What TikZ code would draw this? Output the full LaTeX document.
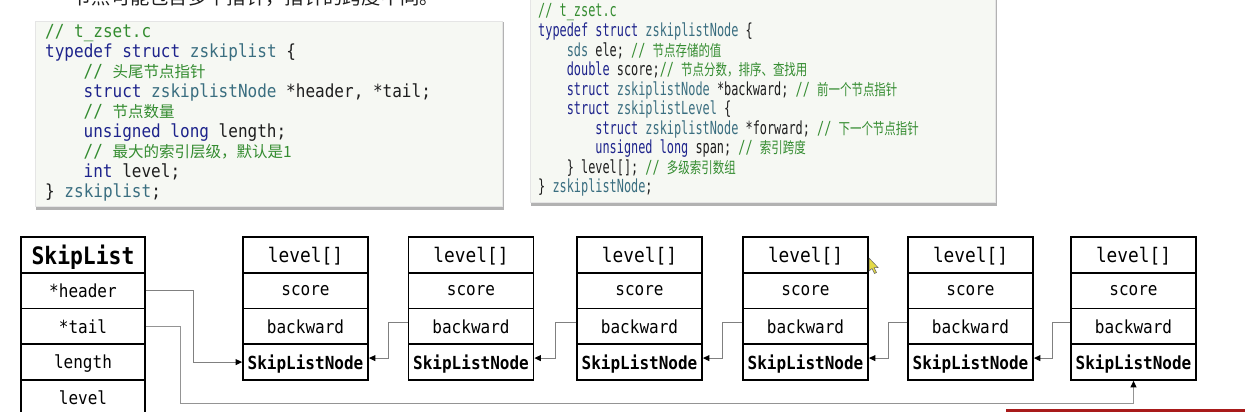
\documentclass[tikz,border=0pt]{standalone}
\usepackage{fontspec}
\usetikzlibrary{arrows.meta,calc}
\newfontfamily\mono[FakeStretch=0.89]{DejaVu Sans Mono}
\newfontfamily\monoN[FakeStretch=0.66]{DejaVu Sans Mono}
\newfontfamily\cjk{Noto Sans CJK SC}
\newfontfamily\cjkN[FakeStretch=0.74]{Noto Sans CJK SC}
\definecolor{ckwc}{RGB}{30,36,140}
\definecolor{ctyc}{RGB}{58,110,128}
\definecolor{ccmc}{RGB}{52,140,48}
\definecolor{codebg}{RGB}{246,248,243}
\definecolor{txt}{RGB}{30,30,30}
\definecolor{cursorc}{RGB}{228,218,70}
\definecolor{redbar}{RGB}{168,26,26}
\newcommand\ckw[1]{\textcolor{ckwc}{#1}}
\newcommand\cty[1]{\textcolor{ctyc}{#1}}
\newcommand\ccm[1]{\textcolor{ccmc}{#1}}
\newcommand\zhL[1]{{\cjk\fontsize{15.5}{19}\selectfont #1}}
\newcommand\zhR[1]{{\cjkN\fontsize{15.5}{19}\selectfont #1}}
\tikzset{
  codeL/.style={anchor=base west, inner sep=0pt, text=txt, font=\mono\fontsize{18}{21}\selectfont\frenchspacing},
  codeR/.style={anchor=base west, inner sep=0pt, text=txt, font=\monoN\fontsize{18}{21}\selectfont\frenchspacing},
  codebox/.style={fill=codebg, draw=black!10, line width=0.6pt},
  shadowbox/.style={fill=black!30, draw=none},
  row/.style={draw=black, line width=1.8pt, minimum width=125pt, minimum height=35.75pt, inner sep=0pt, text depth=0pt, font=\mono\fontsize{18}{21}\selectfont},
  lvrow/.style={row, font=\mono\fontsize{20}{23}\selectfont},
  boldrow/.style={row, font=\mono\bfseries\fontsize{18}{21}\selectfont},
  titlerow/.style={row, minimum width=124pt, font=\mono\bfseries\fontsize{24}{27}\selectfont},
  slrow/.style={row, minimum width=124pt},
  conn/.style={draw=black!50, line width=1pt, -{Triangle[length=6.5pt,width=6pt,color=black]}},
  tailconn/.style={conn, draw=black!42}
}
\begin{document}
\begin{tikzpicture}[x=1pt,y=-1pt]
\clip (0,0) rectangle (1245,412);
\fill[white] (0,0) rectangle (1245,412);

% partially visible title line
\node[anchor=base west, inner sep=0pt, font=\cjk\fontsize{19.3}{22}\selectfont, text=txt] (topline) at (44,5) {•\hspace{9pt}节点可能包含多个指针，指针的跨度不同。};

% left code box
\path[shadowbox] (36,22.5) rectangle (503.5,209.5);
\path[codebox] (35,21) rectangle (502,206.5);
\node[codeL] (l1) at (45,38.0) {\ccm{// t\_zset.c}};
\node[codeL] (l2) at (45,57.9) {\ckw{typedef struct} \cty{zskiplist} \{};
\node[codeL] (l3) at (83.5,77.8) {\ccm{// \zhL{头尾节点指针}}};
\node[codeL] (l4) at (83.5,97.7) {\ckw{struct} \cty{zskiplistNode} *header, *tail;};
\node[codeL] (l5) at (83.5,117.6) {\ccm{// \zhL{节点数量}}};
\node[codeL] (l6) at (83.5,137.5) {\ckw{unsigned long} length;};
\node[codeL] (l7) at (83.5,157.4) {\ccm{// \zhL{最大的索引层级，默认是1}}};
\node[codeL] (l8) at (83.5,177.3) {\ckw{int} level;};
\node[codeL] (l9) at (45,197.2) {\} \cty{zskiplist};};

% right code box
\path[shadowbox] (531,-5) rectangle (996.5,205.5);
\path[codebox] (530,-6) rectangle (995,202.5);
\node[codeR] (r1) at (538,17.0) {\ccm{// t\_zset.c}};
\node[codeR] (r2) at (538,36.55) {\ckw{typedef struct} \cty{zskiplistNode} \{};
\node[codeR] (r3) at (566.6,56.1) {\cty{sds} ele; \ccm{// \zhR{节点存储的值}}};
\node[codeR] (r4) at (566.6,75.65) {\ckw{double} score;\ccm{// \zhR{节点分数，排序、查找用}}};
\node[codeR] (r5) at (566.6,95.2) {\ckw{struct} \cty{zskiplistNode} *backward; \ccm{// \zhR{前一个节点指针}}};
\node[codeR] (r6) at (566.6,114.75) {\ckw{struct} \cty{zskiplistLevel} \{};
\node[codeR] (r7) at (595.2,134.3) {\ckw{struct} \cty{zskiplistNode} *forward; \ccm{// \zhR{下一个节点指针}}};
\node[codeR] (r8) at (595.2,153.85) {\ckw{unsigned long} span; \ccm{// \zhR{索引跨度}}};
\node[codeR] (r9) at (566.6,173.4) {\} level[]; \ccm{// \zhR{多级索引数组}}};
\node[codeR] (r10) at (538,192.95) {\} \cty{zskiplistNode};};

% SkipList struct
\node[titlerow] (skt0) at (83,254.9) {SkipList};
\node[slrow] (skh) at (83,290.6) {*header};
\node[slrow] (skt) at (83,326.4) {*tail};
\node[slrow] (skl) at (83,362.1) {length};
\node[slrow] (skv) at (83,397.9) {level};

% SkipListNodes
\foreach \i/\cx in {1/305.5,2/471,3/639.5,4/805.5,5/970.5,6/1133.5}{
  \node[lvrow] (n\i l) at (\cx,254.9) {level[]};
  \node[row] (n\i s) at (\cx,290.6) {score};
  \node[row] (n\i b) at (\cx,326.4) {backward};
  \node[boldrow] (n\i n) at (\cx,362.1) {SkipListNode};
}

% header pointer
\draw[conn] (skh.east) -| ($(skh.east)!0.5!(n1n.west)+(-0.5,0)$) |- (n1n.west);
% tail pointer
\coordinate (tailturn) at ($(skt.east)+(35,77)$);
\draw[tailconn] (skt.east) -| (tailturn) -| (n6n.south);

% backward pointers
\foreach \a/\b in {1/2,2/3,3/4,4/5,5/6}{
  \draw[conn] ([yshift=3.5pt]n\b b.west) -| ($([yshift=4pt]n\a n.east)!0.5!([yshift=4pt]n\b n.west)$) |- ([yshift=4pt]n\a n.east);
}

% mouse cursor
\draw[fill=cursorc, draw=black!60, line width=0.5pt]
  (869,258) -- (869,271) -- (872,268.5) -- (874.5,273.5) -- (876.5,272.5) -- (874,267.5) -- (878,267.5) -- cycle;

% red bar bottom right
\fill[redbar] (1006,409) rectangle (1245,412);
\end{tikzpicture}
\end{document}
